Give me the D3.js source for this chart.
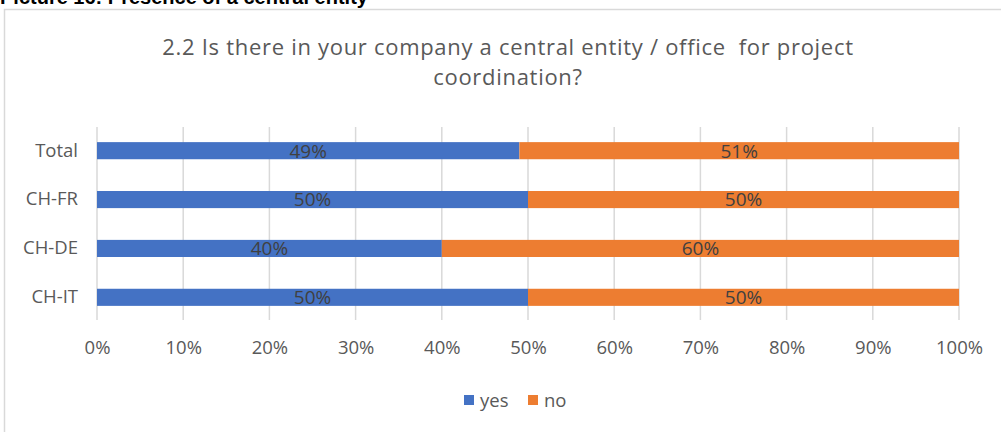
<!DOCTYPE html>
<html>
<head>
<meta charset="utf-8">
<script src="https://cdn.jsdelivr.net/npm/d3@7"></script>
<style>
  html, body { margin: 0; padding: 0; background: #fff; }
  svg { display: block; font-family: "Open Sans", Lato, sans-serif; }
</style>
</head>
<body>
<svg id="chart" width="1001" height="432"></svg>
<script>
// Survey answers per region, as shares of respondents
const categories = ["Total", "CH-FR", "CH-DE", "CH-IT"];
const seriesNames = ["yes", "no"];
const yesValues = [0.49, 0.50, 0.40, 0.50];
const noValues  = [0.51, 0.50, 0.60, 0.50];
const tickValues = [0, 0.1, 0.2, 0.3, 0.4, 0.5, 0.6, 0.7, 0.8, 0.9, 1.0];
const colors = { yes: "#4472c4", no: "#ed7d31" };

const titleLines = [
  "2.2 Is there in your company a central entity / office\u00a0 for project",
  "coordination?"
];
const caption = "Picture 16: Presence of a central entity";

const svg = d3.select("#chart");
const font = "'Open Sans', Lato, sans-serif";
const labelSize = 18.5;

// Document caption partly above the chart frame
svg.append("text")
  .attr("x", 0).attr("y", 4)
  .attr("font-family", "Liberation Sans, Arial, sans-serif")
  .attr("font-weight", "bold")
  .attr("font-size", 20)
  .attr("fill", "#000")
  .text(caption);

// Chart frame
svg.append("rect")
  .attr("x", 4.5).attr("y", 9.5)
  .attr("width", 1010).attr("height", 440)
  .attr("fill", "#fff")
  .attr("stroke", "#d9d9d9")
  .attr("stroke-width", 1.5);

// Title
svg.append("g").selectAll("text")
  .data(titleLines)
  .join("text")
  .attr("x", 508)
  .attr("y", (d, i) => 55 + i * 30)
  .attr("text-anchor", "middle")
  .attr("font-size", 22)
  .attr("letter-spacing", 0.7)
  .attr("fill", "#595959")
  .text(d => d);

const rows = categories.map((c, i) => ({ cat: c, yes: yesValues[i], no: noValues[i] }));
const stack = d3.stack().keys(seriesNames)(rows);

const x = d3.scaleLinear().domain([0, 1]).range([97, 959]);
const y = d3.scaleBand().domain(categories).range([126, 322]).paddingInner(0.65).paddingOuter(0.33);

// Vertical gridlines
svg.append("g").selectAll("line")
  .data(tickValues)
  .join("line")
  .attr("x1", d => x(d)).attr("x2", d => x(d))
  .attr("y1", 127).attr("y2", 320)
  .attr("stroke", "#d9d9d9")
  .attr("stroke-width", 1.5);

// X axis labels
const xAxis = d3.axisBottom(x).tickValues(tickValues).tickFormat(d3.format(".0%")).tickSize(0);
const gx = svg.append("g").attr("transform", "translate(0,338)").call(xAxis);
gx.select(".domain").remove();
gx.selectAll("text")
  .attr("font-family", font)
  .attr("font-size", labelSize)
  .attr("fill", "#595959");

// Category axis labels
const yAxis = d3.axisLeft(y).tickSize(0).tickPadding(19);
const gy = svg.append("g").attr("transform", `translate(${x(0)},0)`).call(yAxis);
gy.select(".domain").remove();
gy.selectAll("text")
  .attr("font-family", font)
  .attr("font-size", labelSize)
  .attr("fill", "#595959");

// Stacked bars
const layers = svg.append("g").selectAll("g")
  .data(stack)
  .join("g")
  .attr("fill", d => colors[d.key]);

layers.selectAll("rect")
  .data(d => d)
  .join("rect")
  .attr("x", d => x(d[0]))
  .attr("width", d => x(d[1]) - x(d[0]))
  .attr("y", d => y(d.data.cat))
  .attr("height", y.bandwidth());

// Value labels centered in each segment
layers.selectAll("text")
  .data(d => d)
  .join("text")
  .attr("x", d => (x(d[0]) + x(d[1])) / 2)
  .attr("y", d => y(d.data.cat) + y.bandwidth() / 2)
  .attr("dy", "0.36em")
  .attr("text-anchor", "middle")
  .attr("font-size", 19)
  .attr("fill", "#404040")
  .text(d => d3.format(".0%")(d[1] - d[0]));

// Legend
const legend = svg.append("g").attr("transform", "translate(464,400)");
const items = legend.selectAll("g")
  .data(seriesNames)
  .join("g")
  .attr("transform", (d, i) => `translate(${i * 64},0)`);
items.append("rect")
  .attr("x", 0).attr("y", -5)
  .attr("width", 10).attr("height", 10)
  .attr("fill", d => colors[d]);
items.append("text")
  .attr("x", 16).attr("y", 0)
  .attr("dy", "0.36em")
  .attr("font-size", labelSize)
  .attr("fill", "#595959")
  .text(d => d);
</script>
</body>
</html>
